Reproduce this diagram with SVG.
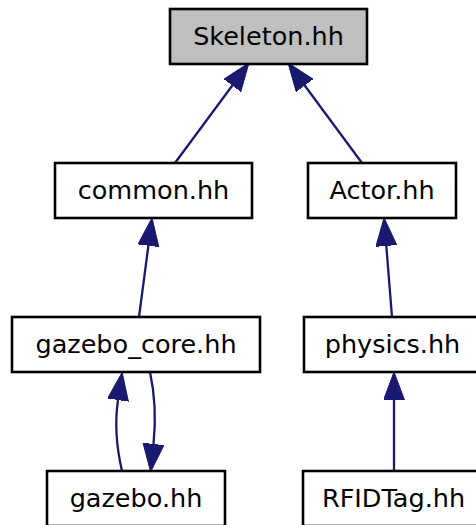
<svg xmlns="http://www.w3.org/2000/svg" width="476" height="525" viewBox="0 0 476 525">
<style>
.box{fill:#ffffff;stroke:#000000;stroke-width:2.6}
.root{fill:#bfbfbf}
.lbl{font-family:"DejaVu Sans","Noto Sans",sans-serif;font-size:25.5px;fill:#000000;text-anchor:middle}
.edge{fill:none;stroke:#191970;stroke-width:2.3;marker-end:url(#ah)}
</style>
<defs>
<marker id="ah" markerUnits="userSpaceOnUse" markerWidth="30" markerHeight="24" refX="0" refY="10.5" orient="auto">
<path d="M0,0 L28,10.5 L0,21 z" fill="#191970" stroke="#191970" stroke-width="1"/>
</marker>
</defs>
<rect width="476" height="525" fill="#ffffff"/>
<g id="connectors">
<path class="edge" d="M175,163 L232.3,85.5"/>
<path class="edge" d="M362,163 L304.7,85.5"/>
<path class="edge" d="M139,317 L148.4,245.7"/>
<path class="edge" d="M392,317 L386.3,245.9"/>
<path class="edge" d="M122,471 C116,445 115,420 118,400"/>
<path class="edge" d="M150,372 C155,395 156,420 153.5,444"/>
<path class="edge" d="M394,471 L394,400"/>
</g>
<g id="node-skeleton">
<rect class="box root" x="170" y="9" width="197" height="55"/>
<text class="lbl" x="268.5" y="44.5">Skeleton.hh</text>
</g>
<g id="node-common">
<rect class="box" x="55" y="163" width="197" height="55"/>
<text class="lbl" x="153.5" y="198.5">common.hh</text>
</g>
<g id="node-actor">
<rect class="box" x="308" y="163" width="148" height="55"/>
<text class="lbl" x="382" y="198.5">Actor.hh</text>
</g>
<g id="node-gazebo-core">
<rect class="box" x="12" y="317" width="248" height="55"/>
<text class="lbl" x="136" y="352.5">gazebo_core.hh</text>
</g>
<g id="node-physics">
<rect class="box" x="304" y="317" width="177" height="55"/>
<text class="lbl" x="392.5" y="352.5">physics.hh</text>
</g>
<g id="node-gazebo">
<rect class="box" x="47" y="471" width="178" height="55"/>
<text class="lbl" x="136" y="506.5">gazebo.hh</text>
</g>
<g id="node-rfidtag">
<rect class="box" x="303" y="471" width="182" height="55"/>
<text class="lbl" x="393.5" y="506.5">RFIDTag.hh</text>
</g>
</svg>
